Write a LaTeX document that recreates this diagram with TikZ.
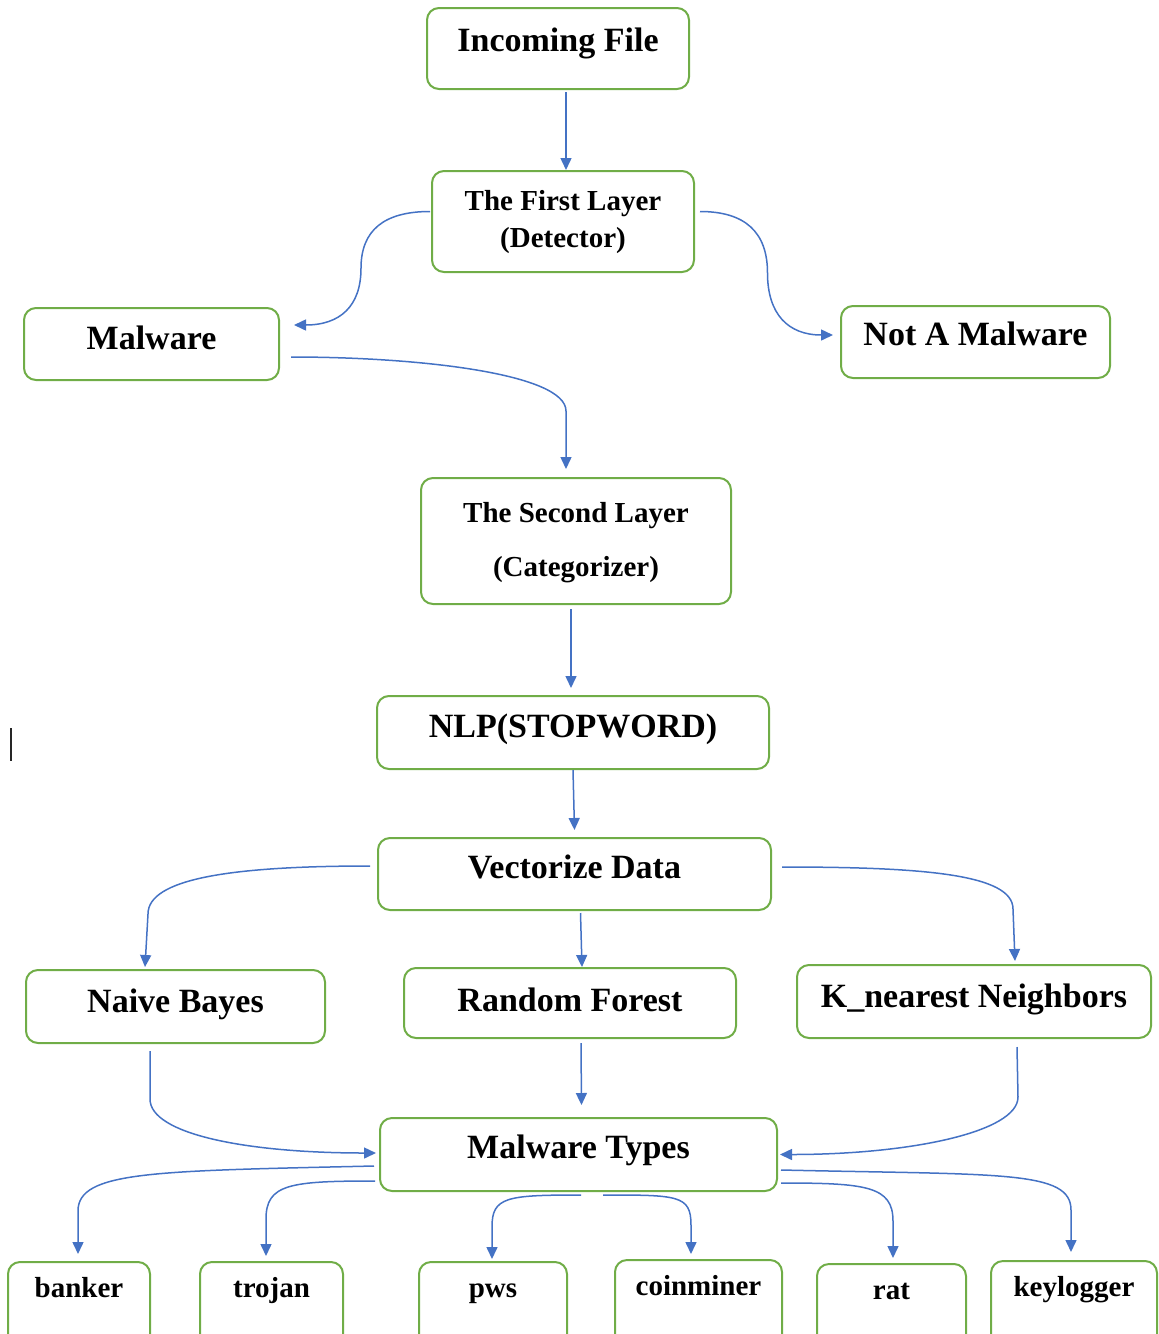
\documentclass[tikz,border=0pt]{standalone}
\usepackage{fontspec}
\setmainfont{Liberation Serif}
\usetikzlibrary{arrows.meta,calc}
\definecolor{boxgreen}{RGB}{112,173,71}
\definecolor{flowblue}{RGB}{68,114,196}
\newcommand{\boxfont}{\fontsize{17}{20}\selectfont\bfseries}
\newcommand{\smallboxfont}{\fontsize{14.5}{18.5}\selectfont\bfseries}

\begin{document}
\begin{tikzpicture}[x=0.5pt,y=0.5pt,
  stage/.style={draw=boxgreen,line width=1pt,rounded corners=6pt,anchor=base,inner sep=0pt,align=center,font=\boxfont},
  flow/.style={draw=flowblue,line width=0.75pt,-{Triangle[length=6pt,width=5.5pt]}}]
\useasboundingbox (0,0) rectangle (1159,-1334);
\clip (0,0) rectangle (1159,-1334);
% layers
\node[stage,minimum width=131pt,text height=21.5pt,text depth=19pt] (inc) at (558,-51) {Incoming File};
\node[stage,font=\smallboxfont,minimum width=131pt,text height=38pt,text depth=12.5pt] (first) at (563,-247) {The First Layer\\(Detector)};
\node[stage,minimum width=127.5pt,text height=20.5pt,text depth=15.5pt] (mal) at (151.5,-349) {Malware};
\node[stage,minimum width=134.5pt,text height=19.5pt,text depth=16.5pt] (notmal) at (975.5,-345) {Not A Malware};
\node[stage,font=\fontsize{14.5}{27}\selectfont\bfseries,minimum width=155pt,text height=49pt,text depth=14pt] (second) at (576,-576) {The Second Layer\\(Categorizer)};
\node[stage,minimum width=196pt,text height=20.5pt,text depth=16pt] (nlp) at (573,-737) {NLP(STOPWORD)};
\node[stage,minimum width=196.5pt,text height=20pt,text depth=16pt] (vec) at (574.5,-878) {Vectorize Data};
% classifiers
\node[stage,minimum width=149.5pt,text height=21pt,text depth=15.5pt] (nb) at (175.5,-1012) {Naive Bayes};
\node[stage,minimum width=166pt,text height=21.5pt,text depth=13.5pt] (rf) at (570,-1011) {Random Forest};
\node[stage,minimum width=177pt,text height=21pt,text depth=15.5pt] (knn) at (974,-1007) {K\_nearest Neighbors};
\node[stage,minimum width=198.5pt,text height=20pt,text depth=16.5pt] (types) at (578.5,-1158) {Malware Types};
% types
\foreach \n/\x/\w/\b in {banker/79/71/1297,trojan/271.5/71.5/1297,pws/493/74/1297,coinminer/698.5/83.5/1295,rat/891.5/74.5/1299,keylogger/1074/83/1296}
  \node[stage,font=\smallboxfont,minimum width=\w pt,text height=17.5pt,text depth=26.5pt] (\n) at (\x,-\b) {\n};

\draw[flow] ($(inc.south)+(8,-2)$) -- ($(first.north)+(3,0)$);
\draw[flow] ($(first.west)+(-1,10)$) .. controls +(-46,0) and +(0,38) .. ($(first.west)+(-70,-46.75)$) .. controls +(0,-38) and +(46,0) .. ($(mal.east)+(14,19)$);
\draw[flow] ($(first.east)+(5,10)$) .. controls +(45,0) and +(0,41) .. ($(first.east)+(72.5,-51.5)$) .. controls +(0,-41) and +(-45,0) .. ($(notmal.west)+(-7,7)$);
\draw[flow] ($(mal.east)+(11,-13)$) .. controls +(130,0) and +(0,37) .. ($(second.north)+(-10,66)$) -- ($(second.north)+(-10,8)$);
\draw[flow] ($(second.south)+(-5,-4)$) -- ($(nlp.north)+(-2,7)$);
\draw[flow] (nlp.south) -- ($(vec.north)+(0,7)$);
\draw[flow] ($(vec.west)+(-7,8)$) .. controls +(-140,0) and +(0,35) .. ($(nb.north)+(-27.5,55)$) -- ($(nb.north)+(-30.5,2)$);
\draw[flow] ($(vec.south)+(6,-2)$) -- ($(rf.north)+(12,0)$);
\draw[flow] ($(vec.east)+(10,7)$) .. controls +(140,0) and +(0,35) .. ($(knn.north)+(39,55)$) -- ($(knn.north)+(41,3)$);
\draw[flow] ($(nb.south)+(-25.5,-7)$) -- ($(nb.south)+(-25.5,-55)$) .. controls +(0,-35) and +(-130,0) .. ($(types.west)+(-3,1.5)$);
\draw[flow] ($(rf.south)+(11,-4)$) -- ($(types.north)+(3,12)$);
\draw[flow] ($(knn.south)+(43,-8)$) -- ($(knn.south)+(44,-58)$) .. controls +(0,-35) and +(130,0) .. ($(types.east)+(2,0)$);
\draw[flow] ($(types.west)+(-5,-11.5)$) .. controls +(-220,-5) and +(0,40) .. ($(banker.north)+(-1,50)$) -- ($(banker.north)+(-1,7)$);
\draw[flow] ($(types.west)+(-4,-26.5)$) .. controls +(-85,0) and +(0,35) .. ($(trojan.north)+(-5.5,42)$) -- ($(trojan.north)+(-5.5,5)$);
\draw[flow] ($(types.south)+(2.5,-3)$) .. controls +(-75,0) and +(0,30) .. ($(pws.north)+(-1,34)$) -- ($(pws.north)+(-1,2)$);
\draw[flow] ($(types.south)+(24.5,-3)$) .. controls +(75,0) and +(0,30) .. ($(coinminer.north)+(-7.5,34)$) -- ($(coinminer.north)+(-7.5,5)$);
\draw[flow] ($(types.east)+(3,-28.5)$) .. controls +(85,0) and +(0,35) .. ($(rat.north)+(1.5,42)$) -- ($(rat.north)+(1.5,5)$);
\draw[flow] ($(types.east)+(3,-15.5)$) .. controls +(220,-5) and +(0,40) .. ($(keylogger.north)+(-3,50)$) -- ($(keylogger.north)+(-3,8)$);
% cursor mark
\draw[line width=1pt,black!85] (11,-728) -- (11,-761);
\end{tikzpicture}
\end{document}
